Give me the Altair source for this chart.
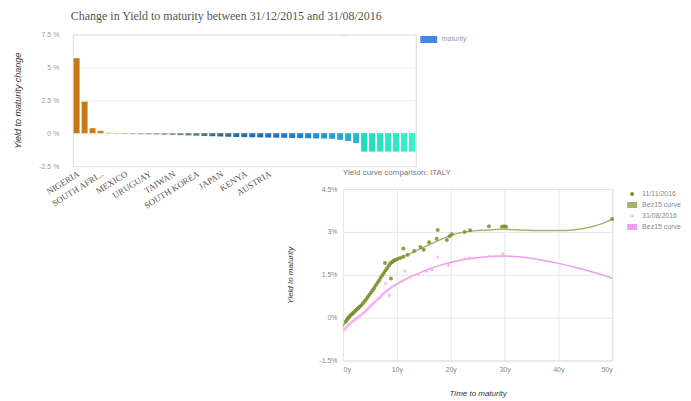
import altair as alt
import pandas as pd

# ---------------- Chart 1 data ----------------
countries = ["NIGERIA", "EGYPT", "TURKEY", "SOUTH AFRICA", "RUSSIA", "INDONESIA", "MEXICO",
             "CHINA", "INDIA", "URUGUAY", "CHILE", "PERU", "TAIWAN", "COLOMBIA", "POLAND",
             "SOUTH KOREA", "HUNGARY", "MALAYSIA", "JAPAN", "THAILAND", "SINGAPORE", "KENYA",
             "CZECH REPUBLIC", "SWITZERLAND", "AUSTRIA", "GERMANY", "NETHERLANDS", "LUXEMBOURG",
             "FINLAND", "FRANCE", "BELGIUM", "DENMARK", "SWEDEN", "IRELAND", "SPAIN", "ITALY",
             "PORTUGAL", "CANADA", "NEW ZEALAND", "AUSTRALIA", "UNITED STATES", "UNITED KINGDOM",
             "NORWAY"]
changes = [5.7, 2.4, 0.38, 0.18, 0.04, -0.05, -0.06, -0.07, -0.08, -0.09, -0.1, -0.11, -0.13,
           -0.15, -0.17, -0.19, -0.21, -0.23, -0.25, -0.27, -0.29, -0.3, -0.31, -0.32, -0.33,
           -0.34, -0.35, -0.36, -0.37, -0.38, -0.39, -0.4, -0.42, -0.5, -0.6, -0.75,
           -1.4, -1.4, -1.4, -1.4, -1.4, -1.4, -1.4]
ranks = list(range(1, len(countries) + 1))
shown_labels = ["NIGERIA", "SOUTH AFRICA", "MEXICO", "URUGUAY", "TAIWAN", "SOUTH KOREA",
                "JAPAN", "KENYA", "AUSTRIA"]
y1_ticks = [-2.5, 0, 2.5, 5, 7.5]
color_stops = [1, 4, 6, 12, 18, 24, 30, 36, 37, 43]
color_range = ["#c47818", "#c8801c", "#cdb98c", "#8f9a82", "#3d6e80", "#1f6ebd",
               "#1d84d2", "#2cb4d6", "#1fdcbf", "#36f2cc"]
legend1_key = ["maturity"]

# ---------------- Chart 2 data ----------------
olive_t = [0.5, 0.7, 0.9, 1.1, 1.3, 1.5, 1.7, 1.9, 2.1, 2.3, 2.5, 2.7, 2.9, 3.1, 3.4, 3.7, 4.0,
           4.3, 4.6, 4.9, 5.2, 5.5, 5.8, 6.1, 6.4, 6.7, 7.0, 7.3, 7.6, 7.9, 8.2, 8.5, 8.8, 9.1,
           9.4, 9.7, 10.1, 10.6, 11.2, 12.0,
           7.8, 8.9, 11.2, 13.2, 14.4, 15.0, 16.0, 17.4, 17.6, 19.3, 19.8, 20.2, 22.6, 23.6,
           27.1, 29.5, 29.9, 30.3, 50.0]
olive_y = [-0.14, -0.08, -0.03, 0.02, 0.06, 0.1, 0.13, 0.17, 0.2, 0.24, 0.28, 0.31, 0.35, 0.38,
           0.43, 0.5, 0.57, 0.64, 0.72, 0.8, 0.88, 0.96, 1.04, 1.13, 1.22, 1.3, 1.4, 1.48, 1.56,
           1.66, 1.74, 1.82, 1.9, 1.95, 1.99, 2.02, 2.05, 2.09, 2.13, 2.2,
           1.91, 1.37, 2.42, 2.33, 2.47, 2.38, 2.64, 2.76, 3.07, 2.72, 2.85, 2.92, 3.0, 3.06,
           3.2, 3.18, 3.2, 3.18, 3.45]
olive_curve_t = [0, 1, 2, 3, 4, 5, 6, 7, 8, 9, 10, 12, 14, 16, 18, 20, 22, 25, 28, 30, 33, 36,
                 40, 43, 46, 48, 50]
olive_curve_y = [-0.3, -0.02, 0.2, 0.38, 0.58, 0.84, 1.12, 1.4, 1.66, 1.88, 2.02, 2.2, 2.38,
                 2.55, 2.72, 2.88, 2.98, 3.05, 3.08, 3.09, 3.07, 3.05, 3.05, 3.08, 3.17, 3.28,
                 3.45]
pink_t = [0.3, 0.6, 0.9, 1.2, 1.5, 1.8, 2.1, 2.4, 2.7, 3.0, 3.3, 3.6, 3.9, 4.2, 4.5, 4.8, 5.1,
          5.4, 5.7, 6.0, 6.4, 6.8, 7.2, 7.6, 8.0, 8.5, 9.0, 9.6, 10.2, 11.0, 12.5, 14.0, 15.5,
          16.5, 7.9, 8.6, 11.5, 17.6, 19.6, 22.6, 23.5, 27.1, 29.7]
pink_y = [-0.42, -0.35, -0.28, -0.22, -0.17, -0.12, -0.08, -0.04, 0.0, 0.04, 0.09, 0.14, 0.18,
          0.24, 0.28, 0.34, 0.4, 0.46, 0.51, 0.56, 0.63, 0.7, 0.78, 0.85, 0.92, 0.99, 1.06,
          1.12, 1.2, 1.28, 1.42, 1.52, 1.62, 1.68, 1.19, 0.78, 1.63, 2.12, 1.83, 2.06, 2.09,
          2.15, 2.23]
pink_curve_t = [0, 1, 2, 3, 4, 5, 6, 7, 8, 9, 10, 12, 14, 16, 18, 20, 22, 25, 28, 30, 33, 36,
                40, 44, 47, 50]
pink_curve_y = [-0.45, -0.25, -0.1, 0.05, 0.2, 0.38, 0.57, 0.75, 0.92, 1.06, 1.18, 1.38, 1.55,
                1.7, 1.83, 1.93, 2.02, 2.1, 2.15, 2.16, 2.12, 2.04, 1.9, 1.72, 1.56, 1.38]
legend2_keys = ["11/11/2016", "Bez15 curve", "31/08/2016", "Bez15 curve "]
legend2_colors = ["#7f8c2a", "#aeae72", "#f4b4f4", "#f09cf0"]
legend2_shapes = ["M-0.4,0A0.4,0.4 0 1,0 0.4,0A0.4,0.4 0 1,0 -0.4,0Z",
                  "M-1,-0.6H1V0.6H-1Z",
                  "M-0.3,0A0.3,0.3 0 1,0 0.3,0A0.3,0.3 0 1,0 -0.3,0Z",
                  "M-1,-0.6H1V0.6H-1Z"]
x2_ticks = [0, 10, 20, 30, 40, 50]
y2_ticks = [-1.5, 0, 1.5, 3, 4.5]

SANS = "Liberation Sans"
SERIF = "Liberation Serif"

# ---------------- Chart 1 ----------------
bar_df = pd.DataFrame({"country": countries, "change": changes, "rank": ranks})

bars = alt.Chart(bar_df).mark_bar().encode(
    x=alt.X("country:N", sort=None,
            scale=alt.Scale(paddingInner=0.25, paddingOuter=0.1),
            axis=alt.Axis(values=shown_labels, title=None, labelAngle=-32, domain=False,
                          ticks=False, grid=False, labelFont=SERIF, labelFontSize=9,
                          labelColor="#555555", labelPadding=3, labelLimit=200,
                          labelExpr="length(datum.label) > 11 ? substring(datum.label, 0, 10) + '...' : datum.label")),
    y=alt.Y("change:Q", scale=alt.Scale(domain=[-2.5, 7.5], nice=False),
            axis=alt.Axis(values=y1_ticks, labelExpr="datum.value + ' %'",
                          title="Yield to maturity change", titleFont=SANS, titleFontSize=9,
                          titleFontStyle="italic", titleFontWeight="normal", titleColor="#333333",
                          titlePadding=16, labelFont=SANS, labelFontSize=7, labelColor="#999999",
                          labelPadding=14, domain=False, ticks=False, grid=True,
                          gridColor="#ebebeb")),
    color=alt.Color("rank:Q", scale=alt.Scale(domain=color_stops, range=color_range,
                                              interpolate="rgb"), legend=None),
)

legend1 = alt.Chart(pd.DataFrame({"key": legend1_key})).transform_filter("false").mark_point(
    filled=True, opacity=1
).encode(
    color=alt.Color("key:N", scale=alt.Scale(domain=legend1_key, range=["#4a86e8"]),
                    legend=alt.Legend(title=None, orient="right", offset=8,
                                      symbolType="M-1.7,-0.7H1.7V0.7H-1.7Z", symbolSize=100,
                                      symbolStrokeWidth=0, labelFont=SANS, labelFontSize=7,
                                      labelColor="#999999", labelOffset=8)),
)

chart1 = alt.layer(bars, legend1).resolve_scale(color="independent").properties(
    width=344, height=132,
    title=alt.TitleParams("Change in Yield to maturity between 31/12/2015 and 31/08/2016",
                          anchor="start", frame="group", font=SERIF, fontSize=12,
                          fontWeight="normal", color="#555555", offset=8, dx=-2),
)

# ---------------- Chart 2 ----------------
olive_df = pd.DataFrame({"t": olive_t, "y": olive_y})
olive_curve_df = pd.DataFrame({"t": olive_curve_t, "y": olive_curve_y})
pink_df = pd.DataFrame({"t": pink_t, "y": pink_y})
pink_curve_df = pd.DataFrame({"t": pink_curve_t, "y": pink_curve_y})

x2 = alt.X("t:Q", scale=alt.Scale(domain=[0, 50], nice=False),
           axis=alt.Axis(values=x2_ticks, labelExpr="datum.value + 'y'", title="Time to maturity",
                         titleFont=SANS, titleFontSize=8, titleFontStyle="italic",
                         titleFontWeight="normal", titleColor="#333333", titlePadding=17,
                         labelFont=SANS, labelFontSize=7, labelColor="#888888", labelPadding=5,
                         domain=False, ticks=False, grid=True, gridColor="#e6e6e6"))
y2 = alt.Y("y:Q", scale=alt.Scale(domain=[-1.5, 4.5], nice=False),
           axis=alt.Axis(values=y2_ticks, labelExpr="datum.value + '%'", title="Yield to maturity",
                         titleFont=SANS, titleFontSize=8, titleFontStyle="italic",
                         titleFontWeight="normal", titleColor="#333333", titlePadding=24,
                         labelFont=SANS, labelFontSize=7, labelColor="#888888", labelPadding=6,
                         domain=False, ticks=False, grid=True, gridColor="#e6e6e6"))

pink_line = alt.Chart(pink_curve_df).mark_line(color="#f09cf0", strokeWidth=1.5,
                                               interpolate="monotone").encode(x=x2, y=y2)
olive_line = alt.Chart(olive_curve_df).mark_line(color="#aeae72", strokeWidth=1.5,
                                                 interpolate="monotone").encode(x=x2, y=y2)
pink_pts = alt.Chart(pink_df).mark_circle(color="#f4b4f4", size=10, opacity=0.9).encode(x=x2, y=y2)
olive_pts = alt.Chart(olive_df).mark_circle(color="#7f8c2a", size=16, opacity=0.85).encode(x=x2, y=y2)

leg2 = alt.Legend(title=None, orient="right", offset=15, labelFont=SANS, labelFontSize=7,
                  labelColor="#888888", rowPadding=3, symbolStrokeWidth=0, labelOffset=5,
                  symbolSize=100)
legend2 = alt.Chart(pd.DataFrame({"key": legend2_keys})).transform_filter("false").mark_point(
    filled=True, opacity=1
).encode(
    color=alt.Color("key:N", scale=alt.Scale(domain=legend2_keys, range=legend2_colors), legend=leg2),
    shape=alt.Shape("key:N", scale=alt.Scale(domain=legend2_keys, range=legend2_shapes), legend=leg2),
)

chart2 = alt.layer(pink_line, olive_line, pink_pts, olive_pts, legend2).properties(
    width=270, height=172,
    title=alt.TitleParams("Yield curve comparison: ITALY", anchor="start", frame="group",
                          font=SANS, fontSize=8, fontWeight="normal", color="#777777", offset=8),
)

blank_a = alt.Chart(pd.DataFrame({"a": [0]})).mark_point(opacity=0).encode(
    x=alt.value(0), y=alt.value(0)).properties(width=1, height=1)
blank_b = alt.Chart(pd.DataFrame({"a": [0]})).mark_point(opacity=0).encode(
    x=alt.value(0), y=alt.value(0)).properties(width=1, height=1)

chart = alt.ConcatChart(
    concat=[chart1, blank_a, blank_b, chart2], columns=2, align="none", bounds="flush",
    spacing={"row": 23, "column": -73},
).resolve_scale(color="independent", shape="independent",
                x="independent", y="independent").configure_view(stroke=None).configure(
    background="white", padding={"left": 5, "top": 0, "right": 1, "bottom": 2})

chart.save("out.html", embed_options={"renderer": "svg", "actions": False})
